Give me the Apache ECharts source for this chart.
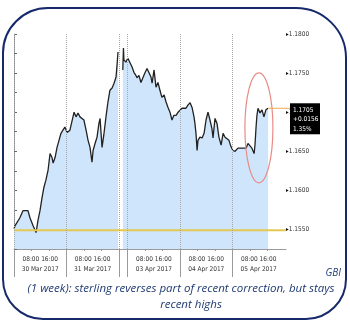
<!DOCTYPE html>
<html>
<head>
<meta charset="utf-8">
<script src="https://cdn.jsdelivr.net/npm/echarts@6/dist/echarts.min.js"></script>
<style>
  html, body { margin: 0; padding: 0; background: #ffffff; }
  #chart { width: 350px; height: 332px; }
</style>
</head>
<body>
<div id="chart"></div>
<script>
// GBP/USD, one week of intraday quotes.
// Time is in trading hours from 30 Mar 2017 00:00; the weekend is squeezed to 4 hours (48-52).
const hours = [
  0, 0.5, 2.7, 4.1, 5.0, 6.4, 7.3, 8.7, 10.1, 11.0, 11.9, 12.8, 13.7, 14.6, 15.6, 16.5, 17.4, 17.9, 18.8, 19.7, 20.6, 21.5, 22.4, 23.3,
  24.3, 25.6, 26.5, 27.5, 28.4, 29.3, 30.2, 31.1, 32.0, 33.0, 33.9, 34.8, 35.7, 36.2, 37.1, 38.0, 38.9, 39.4, 40.3, 41.2, 42.1, 43.0, 43.9, 44.9, 45.8, 46.7, 47.1, 47.6,
  48.7,
  49.8, 50.1, 50.3, 51.2, 52.1, 53.0, 54.0, 54.9, 55.8, 56.3, 57.2, 58.1, 59.0, 59.9, 60.9, 61.8, 62.7, 63.2, 64.1, 65.0, 65.9, 66.8, 67.7, 68.7, 69.6, 70.5, 71.4, 72.3, 73.2, 74.2, 75.1,
  76.0, 76.9, 77.8, 78.7, 79.6, 80.6, 81.5, 82.4, 82.8, 83.3, 83.8, 84.2, 85.1, 86.1, 87.0, 87.9, 88.8, 89.7, 90.6, 91.1, 92.0, 92.9, 93.8, 94.8, 95.7, 96.6, 97.5, 98.4, 99.3,
  100.2, 101.2, 102.5, 103.4, 104.4, 105.3, 106.2, 107.1, 108.0, 108.9, 109.9, 110.3, 110.8, 111.2, 111.7, 112.6, 113.5, 114.4, 115.3, 116.3
];
const prices = [
  1.1551, 1.1555, 1.1565, 1.1574, 1.1576, 1.1574, 1.1565, 1.1555, 1.1546, 1.1562, 1.1574, 1.1590, 1.1604, 1.1613, 1.1626, 1.1647, 1.1642, 1.1635, 1.1642, 1.1655, 1.1664, 1.1673, 1.1677, 1.1681,
  1.1674, 1.1677, 1.1679, 1.1700, 1.1694, 1.1699, 1.1694, 1.1696, 1.1690, 1.1677, 1.1664, 1.1655, 1.1636, 1.1651, 1.1660, 1.1668, 1.1686, 1.1692, 1.1655, 1.1673, 1.1694, 1.1713, 1.1728, 1.1731, 1.1737, 1.1745, 1.1758, 1.1777,
  null,
  1.1754, 1.1782, 1.1767, 1.1764, 1.1769, 1.1767, 1.1758, 1.1751, 1.1747, 1.1744, 1.1747, 1.1738, 1.1744, 1.1750, 1.1756, 1.1754, 1.1745, 1.1737, 1.1754, 1.1732, 1.1738, 1.1728, 1.1719, 1.1722, 1.1713, 1.1706, 1.1700, 1.1690, 1.1696, 1.1696, 1.1700,
  1.1700, 1.1705, 1.1706, 1.1705, 1.1709, 1.1712, 1.1706, 1.1694, 1.1686, 1.1673, 1.1651, 1.1664, 1.1668, 1.1667, 1.1673, 1.1690, 1.1700, 1.1690, 1.1679, 1.1667, 1.1692, 1.1686, 1.1668, 1.1658, 1.1673, 1.1668, 1.1667, 1.1664, 1.1656,
  1.1651, 1.1650, 1.1654, 1.1653, 1.1654, 1.1655, 1.1654, 1.1660, 1.1662, 1.1654, 1.1647, 1.1658, 1.1681, 1.1696, 1.1705, 1.1699, 1.1703, 1.1694, 1.1703, 1.1705
];

const dayStarts = [0, 24, 52, 76, 100];
const sessionBreaks = [0, 24, 48, 52, 76, 100];
const dayLabels = ['30 Mar 2017', '31 Mar 2017', '03 Apr 2017', '04 Apr 2017', '05 Apr 2017'];
const intradayLabel = '08:00 16:00';
const intradayHours = [8, 16];
const prevClose = 1.1549;
const lastQuote = ['1.1705', '+0.0156', '1.35%'];
const focusPoint = [112.1, 1.1680];   // centre of the highlight ring around the latest rebound
const sourceText = 'GBI';
const captionLines = [
  '(1 week): sterling reverses part of recent correction, but stays',
  'recent highs'
];

const X_MAX = 124.5;
const Y_MIN = 1.1525, Y_MAX = 1.18, Y_STEP = 0.0025;
const AXIS_FONT = '"Liberation Sans Narrow", "DejaVu Sans Condensed", sans-serif';
const CAPTION_FONT = '"Open Sans", Lato, sans-serif';
const CAPTION_COLOR = '#1f3b73';
const CLOSE_COLOR = '#e5c84f';

const chart = echarts.init(document.getElementById('chart'), null, { renderer: 'canvas' });

const lineData = hours.map((h, i) => [h, prices[i] === null ? '-' : prices[i]]);
const minorTicks = [];
dayStarts.forEach(d => intradayHours.forEach(h => minorTicks.push(d + h)));

chart.setOption({
  animation: false,
  backgroundColor: '#ffffff',
  grid: { left: 14, top: 34, width: 272, height: 215, containLabel: false },
  xAxis: [
    {
      type: 'value', min: 0, max: X_MAX, position: 'bottom',
      axisLine: { show: true, lineStyle: { color: '#9a9a9a', width: 1 } },
      splitLine: { show: false },
      axisTick: { show: true, customValues: sessionBreaks, length: 28, lineStyle: { color: '#9a9a9a' } },
      axisLabel: {
        customValues: dayStarts.map(d => d + 12),
        formatter: v => intradayLabel + '\n' + dayLabels[dayStarts.indexOf(Math.round(v) - 12)],
        fontFamily: AXIS_FONT, fontSize: 6.5, lineHeight: 10, color: '#333', margin: 5
      }
    },
    {
      type: 'value', min: 0, max: X_MAX, position: 'bottom',
      axisLine: { show: false },
      splitLine: { show: false },
      axisTick: { show: true, customValues: minorTicks, length: 2, lineStyle: { color: '#9a9a9a' } },
      axisLabel: { show: false }
    }
  ],
  yAxis: {
    type: 'value', position: 'right', min: Y_MIN, max: Y_MAX, interval: Y_STEP,
    axisLine: { show: true, lineStyle: { color: '#8a8a8a', width: 1 } },
    axisTick: { show: true, length: 3, lineStyle: { color: '#666' } },
    splitLine: { show: false },
    axisLabel: {
      margin: 0,
      fontFamily: AXIS_FONT, fontSize: 6.5, color: '#333',
      formatter: v => {
        const k = Math.round(v * 10000);
        return k % 50 === 0 ? '{m|\u25B8}' + (k / 10000).toFixed(4) : '';
      },
      rich: { m: { fontSize: 6, color: '#111', fontFamily: AXIS_FONT } }
    }
  },
  series: [
    {
      type: 'line',
      data: lineData,
      showSymbol: false,
      connectNulls: false,
      z: 2,
      lineStyle: { color: '#222222', width: 1.3 },
      areaStyle: { color: '#cfe5fb', origin: 'start', opacity: 1 },
      markLine: {
        silent: true,
        symbol: 'none',
        label: { show: false },
        data: sessionBreaks.map(b => ({
          xAxis: b, lineStyle: { type: 'dotted', color: '#a8a8a8', width: 1 }
        }))
      }
    },
    {
      // previous close reference level
      type: 'line',
      z: 3,
      data: [[0, prevClose], [X_MAX, prevClose]],
      showSymbol: false,
      silent: true,
      color: CLOSE_COLOR,
      itemStyle: { color: CLOSE_COLOR },
      lineStyle: { color: CLOSE_COLOR, width: 2 }
    }
  ]
});

// Overlays placed through the chart's own coordinate system
const last = hours.length - 1;
const toPx = p => chart.convertToPixel({ xAxisIndex: 0, yAxisIndex: 0 }, p);
const lastPx = toPx([hours[last], prices[last]]);
const axisRight = toPx([X_MAX, prices[last]])[0];
const ring = toPx(focusPoint);

chart.setOption({
  graphic: [
    {
      type: 'rect', silent: true, z: 50,
      shape: { x: 3, y: 8, width: 343, height: 311, r: [45, 50, 40, 40] },
      style: { fill: 'none', stroke: '#16296b', lineWidth: 2 }
    },
    {
      type: 'ellipse', silent: true, z: 60,
      shape: { cx: ring[0], cy: ring[1], rx: 14, ry: 55 },
      style: { fill: 'none', stroke: '#e88b86', lineWidth: 1.2 }
    },
    {
      type: 'line', silent: true, z: 60,
      shape: { x1: lastPx[0], y1: lastPx[1], x2: axisRight + 4, y2: lastPx[1] },
      style: { stroke: '#f2a84c', lineWidth: 1 }
    },
    {
      type: 'rect', silent: true, z: 61,
      shape: { x: axisRight + 4, y: lastPx[1] - 5, width: 30, height: 31 },
      style: { fill: '#000000' }
    },
    {
      type: 'text', silent: true, z: 62,
      x: axisRight + 7, y: lastPx[1] - 3,
      style: {
        text: lastQuote.join('\n'), fill: '#ffffff',
        font: '6.5px ' + AXIS_FONT, lineHeight: 9.5
      }
    },
    {
      type: 'text', silent: true, z: 62,
      x: 341, y: 273,
      style: {
        text: sourceText, fill: CAPTION_COLOR, font: 'italic 10px ' + CAPTION_FONT,
        align: 'right', textAlign: 'right', verticalAlign: 'middle', textVerticalAlign: 'middle'
      }
    },
    {
      type: 'text', silent: true, z: 62,
      x: 181, y: 289,
      style: {
        text: captionLines[0], fill: CAPTION_COLOR, font: 'italic 11.5px ' + CAPTION_FONT,
        align: 'center', textAlign: 'center', verticalAlign: 'middle', textVerticalAlign: 'middle'
      }
    },
    {
      type: 'text', silent: true, z: 62,
      x: 191, y: 305,
      style: {
        text: captionLines[1], fill: CAPTION_COLOR, font: 'italic 11.5px ' + CAPTION_FONT,
        align: 'center', textAlign: 'center', verticalAlign: 'middle', textVerticalAlign: 'middle'
      }
    }
  ]
});
</script>
</body>
</html>
